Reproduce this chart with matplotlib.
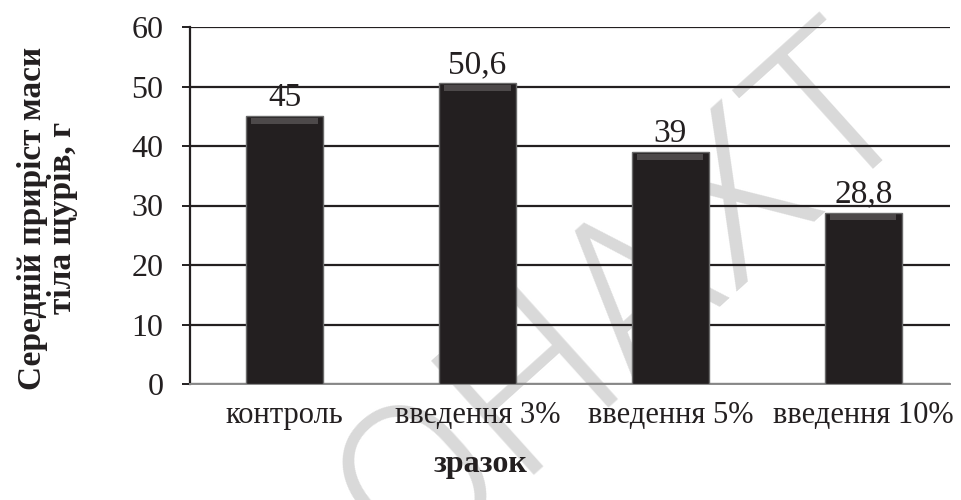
import matplotlib.pyplot as plt

categories = ['контроль', 'введення 3%', 'введення 5%', 'введення 10%']
values = [45, 50.6, 39, 28.8]
value_labels = ['45', '50,6', '39', '28,8']
yticks = [0, 10, 20, 30, 40, 50, 60]

plt.rcParams['font.family'] = ['Liberation Serif', 'DejaVu Serif']

fig = plt.figure(figsize=(9.61, 5.0), dpi=100)
ax = fig.add_axes([190/961, 1 - 384/500, 760/961, 357/500])

pos = range(len(categories))
bars = ax.bar(pos, values, width=0.4, color='#231f20', edgecolor='#6a6a6a',
              linewidth=1.0, zorder=3)
# lighter bevel at the top of each bar
for b in bars:
    ax.bar(b.get_x() + b.get_width()/2, 1.0, bottom=b.get_height() - 1.3,
           width=b.get_width()*0.86, color='#4d494a', zorder=4)

for i, v in enumerate(values):
    ax.text(i, v + 0.5, value_labels[i], ha='center', va='bottom',
            fontsize=24, color='#231f20', zorder=5)

ax.set_xlim(-0.49, 3.45)
ax.set_ylim(0, 60)
ax.set_yticks(yticks)
ax.set_yticklabels([str(t) for t in yticks], fontsize=23, color='#231f20')
ax.yaxis.grid(True, color='#231f20', linewidth=1.6)
ax.set_axisbelow(True)
ax.set_xticks(list(pos))
ax.set_xticklabels(categories, fontsize=22, color='#231f20')
ax.tick_params(axis='x', length=0, pad=12)
ax.tick_params(axis='y', length=6, direction='out', width=1.4, pad=13,
               color='#231f20')

ax.spines['top'].set_visible(False)
ax.spines['right'].set_visible(False)
ax.spines['left'].set_color('#231f20')
ax.spines['left'].set_linewidth(1.6)
ax.spines['bottom'].set_color('#8a8a8a')
ax.spines['bottom'].set_linewidth(1.4)

ax.set_ylabel('Середній приріст маси\nтіла щурів, г', fontsize=24,
              fontweight='bold', color='#231f20', linespacing=0.95)
ax.yaxis.set_label_coords(-0.148, 0.465)
ax.set_xlabel('зразок', fontsize=23, fontweight='bold', color='#231f20')
ax.xaxis.set_label_coords(0.382, -0.185)

# watermark
ax.text(0.652, 0.40, 'ОНАХТ', fontsize=155, color='#d9d9d9', rotation=42,
        ha='center', va='center', family=['Roboto', 'DejaVu Sans'],
        fontweight=300, transform=fig.transFigure, zorder=0.4,
        clip_on=False)
ax.patch.set_alpha(0)

fig.savefig('out.png', dpi=100)
